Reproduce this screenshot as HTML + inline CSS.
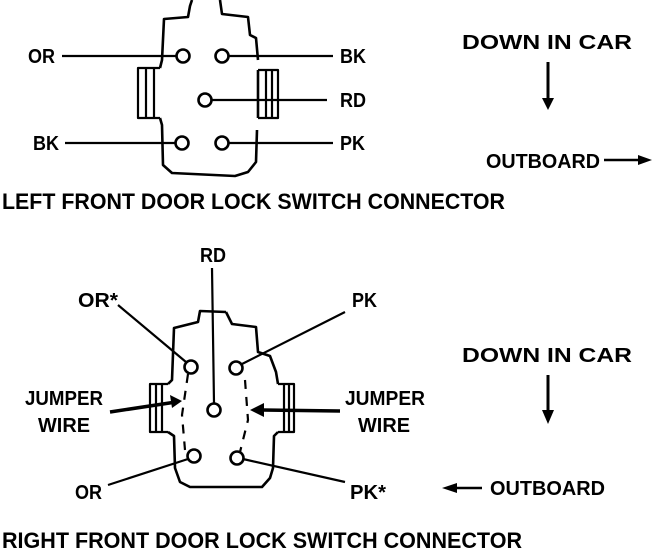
<!DOCTYPE html>
<html><head><style>
html,body{margin:0;padding:0;background:#fff;}
svg{display:block;}
text{font-family:"Liberation Sans",sans-serif;font-weight:bold;font-size:20px;fill:#000;}
text.c{font-size:22px;}
</style></head><body>
<svg width="672" height="550" viewBox="0 0 672 550" xmlns="http://www.w3.org/2000/svg">
<g fill="none" stroke="#000" stroke-width="2.6" stroke-linejoin="round">
<path d="M192,0 L190,6 L188,17 L164,19 L162,60 L160,68 M160,118 L162,125 L163,165 L172,173 L235,176 L248,172 L256,162 L257,130 M258,118 L258,70 M258,60 L256,38 L250,35 L248,17 L222,14 L220,0"/>
<path d="M160,68 L138,68 L138,118 L160,118 M146,68 L146,118 M154,68 L154,118" stroke-width="2.2"/>
<path d="M258,70 L278,70 L278,118 L258,118 M266,70 L266,118 M272,70 L272,118" stroke-width="2.2"/>
<circle cx="183" cy="56" r="6.5"/><circle cx="222" cy="56" r="6.5"/>
<circle cx="205" cy="100" r="6.5"/>
<circle cx="182" cy="143" r="6.5"/><circle cx="222" cy="143" r="6.5"/>
<path d="M62,56 L176,56 M229,56 L333,56 M212,100 L327,100 M65,143 L175,143 M229,143 L333,143" stroke-width="2.2"/>
<path d="M548,62 L548,100" stroke-width="3"/>
<path d="M604,160 L640,160" stroke-width="2.5"/>
<path d="M226,312 L200,311 L198,322 L174,328 L172,380 L168,384 M168,432 L174,436 L175,468 L180,482 L190,487 L262,487 L270,478 L273,468 L274,436 L278,432 M278,384 L276,372 L270,356 L258,352 L256,327 L232,324 L226,312"/>
<path d="M168,384 L150,384 L150,432 L168,432 M156,384 L156,432 M162,384 L162,432" stroke-width="2.2"/>
<path d="M278,384 L294,384 L294,432 L278,432 M284,384 L284,432 M289,384 L289,432" stroke-width="2.2"/>
<circle cx="191" cy="367" r="6.5"/><circle cx="236" cy="368" r="6.5"/>
<circle cx="214" cy="410" r="6.5"/>
<circle cx="194" cy="456" r="6.5"/><circle cx="237" cy="458" r="6.5"/>
<path d="M212,268 L214,403 M118,305 L186,362 M345,312 L242,364 M108,485 L188,459 M243,459 L345,482" stroke-width="2.2"/>
<path d="M188,374 L182,415 L185,450 M245,380 L248,420 L240,452" stroke-dasharray="9,8" stroke-width="2.2"/>
<path d="M110,412 L176,402" stroke-width="3.5"/>
<path d="M340,411 L262,410" stroke-width="3.5"/>
<path d="M548,375 L548,412" stroke-width="3"/>
<path d="M455,488 L482,488" stroke-width="2.5"/>
</g>
<g fill="#000">
<polygon points="542,98 554,98 548,110"/>
<polygon points="638,155 652,160 638,165"/>
<polygon points="182,401 170,395 172,408"/>
<polygon points="250,410 264,403 264,417"/>
<polygon points="542,410 554,410 548,424"/>
<polygon points="442,488 457,483 457,493"/>
</g>
<text x="28" y="63" textLength="27" lengthAdjust="spacingAndGlyphs">OR</text>
<text x="340" y="63" textLength="26" lengthAdjust="spacingAndGlyphs">BK</text>
<text x="340" y="107" textLength="26" lengthAdjust="spacingAndGlyphs">RD</text>
<text x="33" y="150" textLength="26" lengthAdjust="spacingAndGlyphs">BK</text>
<text x="340" y="150" textLength="25" lengthAdjust="spacingAndGlyphs">PK</text>
<text class="c" x="2" y="209" textLength="503" lengthAdjust="spacingAndGlyphs">LEFT FRONT DOOR LOCK SWITCH CONNECTOR</text>
<text x="462" y="49" textLength="170" lengthAdjust="spacingAndGlyphs">DOWN IN CAR</text>
<text x="486" y="168" textLength="114" lengthAdjust="spacingAndGlyphs">OUTBOARD</text>
<text x="200" y="262" textLength="26" lengthAdjust="spacingAndGlyphs">RD</text>
<text x="78" y="307" textLength="40" lengthAdjust="spacingAndGlyphs">OR*</text>
<text x="352" y="307" textLength="25" lengthAdjust="spacingAndGlyphs">PK</text>
<text x="25" y="405" textLength="78" lengthAdjust="spacingAndGlyphs">JUMPER</text>
<text x="38" y="432" textLength="52" lengthAdjust="spacingAndGlyphs">WIRE</text>
<text x="345" y="405" textLength="80" lengthAdjust="spacingAndGlyphs">JUMPER</text>
<text x="358" y="432" textLength="52" lengthAdjust="spacingAndGlyphs">WIRE</text>
<text x="75" y="499" textLength="27" lengthAdjust="spacingAndGlyphs">OR</text>
<text x="350" y="499" textLength="36" lengthAdjust="spacingAndGlyphs">PK*</text>
<text x="462" y="362" textLength="170" lengthAdjust="spacingAndGlyphs">DOWN IN CAR</text>
<text x="490" y="495" textLength="115" lengthAdjust="spacingAndGlyphs">OUTBOARD</text>
<text class="c" x="2" y="548" textLength="520" lengthAdjust="spacingAndGlyphs">RIGHT FRONT DOOR LOCK SWITCH CONNECTOR</text>
</svg>
</body></html>
